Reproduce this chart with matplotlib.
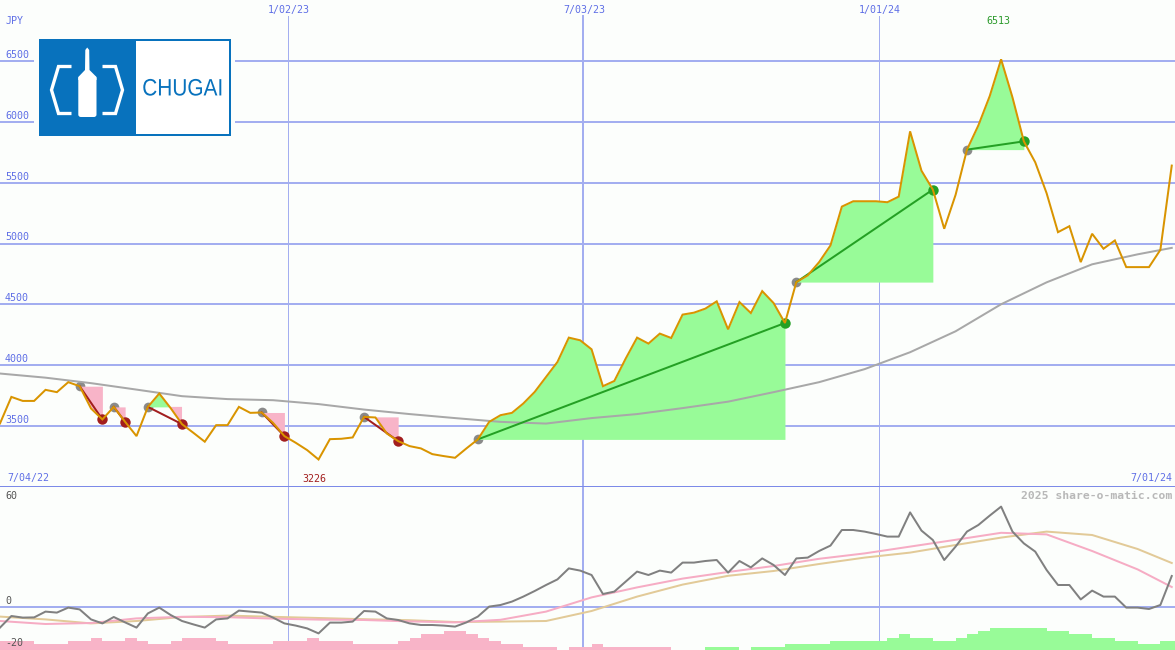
import matplotlib
matplotlib.use('Agg')
import matplotlib.pyplot as plt
import matplotlib.dates as mdates
from matplotlib.patches import Rectangle, Polygon, FancyBboxPatch, PathPatch
from matplotlib.textpath import TextPath
from matplotlib.font_manager import FontProperties
from matplotlib.transforms import Affine2D
import numpy as np
from datetime import date, timedelta

# ---------------- data ----------------
first_week = date(2022, 7, 9)
view_start = date(2022, 7, 9)
view_end = date(2024, 7, 1)

# weekly closes (JPY)
close = [3522, 3740, 3707, 3707, 3798, 3779, 3861, 3828, 3645, 3555,
         3658, 3535, 3418, 3658, 3768, 3648, 3516, 3445, 3372, 3508,
         3508, 3658, 3609, 3612, 3527, 3418, 3363, 3303, 3226, 3393,
         3396, 3407, 3576, 3571, 3440, 3377, 3336, 3317, 3270, 3254,
         3240, 3317, 3391, 3535, 3590, 3609, 3686, 3781, 3904, 4027,
         4227, 4205, 4131, 3828, 3871, 4055, 4227, 4178, 4260, 4224,
         4416, 4432, 4465, 4525, 4295, 4519, 4429, 4609, 4511, 4347,
         4683, 4738, 4847, 4984, 5303, 5347, 5347, 5347, 5339, 5385,
         5921, 5598, 5443, 5121, 5400, 5771, 5970, 6211, 6513, 6200,
         5839, 5667, 5413, 5093, 5142, 4847, 5080, 4957, 5025, 4806,
         4806, 4806, 4948, 5640]

# long moving average, read every 4 weeks
ma_weeks = [0, 4, 8, 12, 16, 20, 24, 28, 32, 36, 40, 44, 48, 52,
            56, 60, 64, 68, 72, 76, 80, 84, 88, 92, 96, 100, 103]
ma_close = [3932, 3898, 3853, 3800, 3746, 3722, 3713, 3681, 3636, 3599,
            3566, 3535, 3521, 3566, 3599, 3648, 3701, 3779, 3861, 3968,
            4107, 4279, 4501, 4681, 4829, 4911, 4964]

# signals: (entry week, exit week)
trades = [(7, 9), (10, 11), (13, 16), (23, 25), (32, 35),
          (42, 69), (70, 82), (85, 90)]

# lower panel oscillator
osc = [-10.3, -4.5, -5.3, -5.2, -2.3, -2.8, -0.3, -1.2, -6.2, -8.2,
       -5.0, -7.7, -10.3, -3.2, -0.3, -4.0, -7.0, -8.7, -10.3, -6.2,
       -5.7, -1.8, -2.3, -2.8, -5.3, -8.2, -9.3, -10.7, -13.2, -7.8,
       -7.8, -7.3, -2.0, -2.3, -5.7, -6.5, -8.2, -9.0, -9.0, -9.3,
       -9.8, -7.7, -4.8, 0.2, 1.0, 2.7, 5.2, 8.0, 11.0, 13.8,
       19.3, 18.2, 16.0, 6.5, 7.7, 12.7, 17.7, 16.0, 18.2, 17.2,
       22.2, 22.2, 23.0, 23.5, 17.2, 23.0, 19.8, 24.3, 21.0, 16.0,
       24.3, 24.7, 28.0, 30.7, 38.5, 38.5, 37.7, 36.5, 35.2, 35.2,
       47.3, 38.2, 33.5, 23.5, 30.2, 37.7, 41.0, 45.7, 50.2, 37.7,
       31.8, 27.7, 18.5, 11.0, 11.0, 3.8, 8.2, 5.2, 5.2, -0.3,
       -0.3, -1.0, 1.0, 15.5]
osc_pink = [-7.0, -8.5, -8.0, -5.7, -4.9, -5.1, -5.8, -6.3, -6.5, -7.2,
            -7.7, -6.4, -2.3, 4.8, 9.8, 14.2, 17.5, 20.5, 24.1, 26.8,
            30.2, 33.6, 37.1, 36.3, 28.0, 18.8, 10.0]
osc_tan = [-4.8, -6.2, -8.2, -7.0, -5.0, -4.3, -4.9, -5.5, -6.1, -6.6,
           -7.5, -7.3, -7.0, -2.0, 5.2, 11.2, 15.6, 18.0, 21.5, 24.7,
           27.2, 31.0, 34.7, 37.7, 36.0, 29.0, 22.0]
# histogram at the bottom (negative = pink, positive = green)
hist = [-4.5, -4.5, -4.5, -3.0, -3.0, -3.0, -4.5, -4.5, -6.15, -4.5,
        -4.5, -6.15, -4.5, -3.0, -3.0, -4.5, -6.15, -6.15, -6.15, -4.5,
        -3.0, -3.0, -3.0, -3.0, -4.5, -4.5, -4.5, -6.15, -4.5, -4.5,
        -4.5, -3.0, -3.0, -3.0, -3.0, -4.5, -6.15, -7.85, -7.85, -9.5,
        -9.5, -7.85, -6.15, -4.5, -3.0, -3.0, -1.65, -1.65, -1.65, 0,
        -1.65, -1.65, -3.0, -1.65, -1.65, -1.65, -1.65, -1.65, -1.65, 0,
        0, 0, 1.65, 1.65, 1.65, 0, 1.65, 1.65, 1.65, 3.0,
        3.0, 3.0, 3.0, 4.5, 4.5, 4.5, 4.5, 4.5, 6.15, 7.85,
        6.15, 6.15, 4.5, 4.5, 6.15, 7.85, 9.5, 11.15, 11.15, 11.15,
        11.15, 11.15, 9.5, 9.5, 7.85, 7.85, 6.15, 6.15, 4.5, 4.5,
        3.0, 3.0, 4.5, 4.5]

grid_prices = [3500, 4000, 4500, 5000, 5500, 6000, 6500]
grid_dates = [date(2023, 1, 2), date(2023, 7, 3), date(2024, 1, 1)]
grid_date_labels = ['1/02/23', '7/03/23', '1/01/24']
grid_date_widths = [1, 2, 1]

# ---------------- style ----------------
W, H, DPI = 1175, 650, 100
PX = 72 / DPI
BG = '#fcfefc'
GRID = '#a3aef0'
DIV = '#7c8ae8'
BLUE_TXT = '#5f6fe6'
PRICE = '#d99400'
MA_GRAY = '#a8a8a8'
GREEN_FILL = '#98fb98'
PINK_FILL = '#f8b4c8'
WIN = '#24a024'
LOSS = '#a21e1e'
ENTRY = '#8a8a8a'
LOGO_BLUE = '#0872bd'
MONO = 'DejaVu Sans Mono'

xs = mdates.date2num([first_week + timedelta(weeks=i) for i in range(len(close))])
price = np.array(close, dtype=float)
ma_x = xs[ma_weeks]

fig = plt.figure(figsize=(W / DPI, H / DPI), dpi=DPI, facecolor=BG)
ax = fig.add_axes([0, 163 / H, 1, 487 / H], facecolor=BG)
ax2 = fig.add_axes([0, 0, 1, 163 / H], facecolor=BG)
for a in (ax, ax2):
    a.set_xlim(mdates.date2num(view_start), mdates.date2num(view_end))
    a.set_xticks([])
    a.set_yticks([])
    for s in a.spines.values():
        s.set_visible(False)
ax.set_ylim(3000, 7000)
ax2.set_ylim(-21.5, 60)

# grid
for p in grid_prices:
    ax.axhline(p, color=GRID, lw=2 * PX, zorder=0.5)
ax.axhline(3000, color=DIV, lw=2 * PX, zorder=7, clip_on=False)
ax2.axhline(0, color=GRID, lw=2 * PX, zorder=0.5)
for d, lbl, w in zip(grid_dates, grid_date_labels, grid_date_widths):
    dn = mdates.date2num(d)
    ax.axvline(dn, ymax=1 - 16 / 487, color=GRID, lw=w * PX, zorder=0.5)
    ax2.axvline(dn, color=GRID, lw=w * PX, zorder=0.5)
    ax.annotate(lbl, xy=(dn, 1), xycoords=('data', 'axes fraction'),
                xytext=(1 * PX, -9.5 * PX), textcoords='offset points',
                ha='center', va='center', fontsize=7.2, family=MONO, color=BLUE_TXT)

# price axis labels
for p in grid_prices:
    ax.annotate(str(p), xy=(0, p), xycoords=('axes fraction', 'data'),
                xytext=(5 * PX, 6 * PX), textcoords='offset points',
                ha='left', va='center', fontsize=7.2, family=MONO, color=BLUE_TXT)
ax.annotate('JPY', xy=(0, 1), xycoords='axes fraction', xytext=(6 * PX, -21 * PX),
            textcoords='offset points', ha='left', va='center',
            fontsize=7.2, family=MONO, color=BLUE_TXT)
ax.annotate('7/04/22', xy=(0, 0), xycoords='axes fraction', xytext=(7 * PX, 8.5 * PX),
            textcoords='offset points', ha='left', va='center',
            fontsize=7.2, family=MONO, color=BLUE_TXT)
ax.annotate('7/01/24', xy=(1, 0), xycoords='axes fraction', xytext=(-3 * PX, 8.5 * PX),
            textcoords='offset points', ha='right', va='center',
            fontsize=7.2, family=MONO, color=BLUE_TXT)

# high / low labels
i_hi, i_lo = int(np.argmax(price)), int(np.argmin(price))
ax.annotate(f'{close[i_hi]}', xy=(xs[i_hi], 1), xycoords=('data', 'axes fraction'),
            xytext=(-3 * PX, -21 * PX), textcoords='offset points',
            ha='center', va='center', fontsize=7.2, family=MONO, color='#2a9a2a')
ax.annotate(f'{close[i_lo]}', xy=(xs[i_lo], 0), xycoords=('data', 'axes fraction'),
            xytext=(-4 * PX, 8.5 * PX), textcoords='offset points',
            ha='center', va='center', fontsize=7.2, family=MONO, color=LOSS)

# signals
for s, e in trades:
    tx, tp = xs[s:e + 1], price[s:e + 1]
    base = price[s]
    ax.fill_between(tx, tp, base, where=tp >= base, interpolate=True,
                    color=GREEN_FILL, lw=0, zorder=2)
    ax.fill_between(tx, tp, base, where=tp <= base, interpolate=True,
                    color=PINK_FILL, lw=0, zorder=2)
    col = WIN if price[e] > base else LOSS
    ax.plot(xs[s], base, 'o', color=ENTRY, ms=7, mew=0, zorder=1.8)
    ax.plot(xs[e], price[e], 'o', color=col, ms=7.5, mew=0, zorder=3)
    ax.plot([xs[s], xs[e]], [base, price[e]], color=col, lw=2 * PX, zorder=4)

ax.plot(ma_x, ma_close, color=MA_GRAY, lw=2 * PX, zorder=2.5)
ax.plot(xs, price, color=PRICE, lw=2 * PX, zorder=5, solid_joinstyle='miter')

# lower panel
hv = np.array(hist)
ax2.bar(xs, np.abs(hv), width=7, bottom=-21.5, align='edge',
        color=[PINK_FILL if v < 0 else GREEN_FILL for v in hv], lw=0, zorder=1)
ax2.plot(ma_x, osc_tan, color='#e2ca98', lw=2 * PX, zorder=2)
ax2.plot(ma_x, osc_pink, color='#f6acc4', lw=2 * PX, zorder=2.2)
ax2.plot(xs, osc, color='#808080', lw=2 * PX, zorder=3)

for v, off in [(60, -9), (0, 5.5), (-20, 4.5)]:
    ax2.annotate(str(v), xy=(0, v), xycoords=('axes fraction', 'data'),
                 xytext=(5 * PX, off * PX), textcoords='offset points',
                 ha='left', va='center', fontsize=7.2, family=MONO, color='#555555')
ax2.annotate('2025 share-o-matic.com', xy=(1, 1), xycoords='axes fraction',
             xytext=(-3 * PX, -9 * PX), textcoords='offset points',
             ha='right', va='center', fontsize=8.2, family=MONO,
             fontweight='bold', color='#b8b8b8')

# logo
ov = fig.add_axes([0, 0, 1, 1])
ov.set_xlim(0, W)
ov.set_ylim(H, 0)
ov.axis('off')
ov.add_patch(Rectangle((34, 35), 201, 104, color=BG, lw=0))
ov.add_patch(Rectangle((38.5, 38.5), 192.5, 97, color=LOGO_BLUE, lw=0))
ov.add_patch(Rectangle((136, 40.5), 93, 93, color='white', lw=0))
br_kw = dict(color='white', lw=3.3 * PX, solid_joinstyle='miter', solid_capstyle='butt')
ov.plot([71.5, 58.5, 51.5, 58.5, 71.5], [66.5, 66.5, 90, 113.5, 113.5], **br_kw)
ov.plot([102.5, 115.5, 122.5, 115.5, 102.5], [66.5, 66.5, 90, 113.5, 113.5], **br_kw)
ov.add_patch(Polygon([(85.3, 50), (87.2, 47.5), (89.2, 50), (89.5, 70), (96.5, 77),
                      (96.5, 80), (78.3, 80), (78.3, 77), (85, 70)],
                     closed=True, color='white', lw=0))
ov.add_patch(FancyBboxPatch((78.3, 76), 18.2, 41, boxstyle='round,pad=0,rounding_size=2.5',
                            color='white', lw=0))
tpath = TextPath((0, 0), 'CHUGAI', size=24, prop=FontProperties(family='Liberation Sans'))
bb = tpath.get_extents()
tr = Affine2D().translate(-bb.x0, -bb.y0).scale(78 / bb.width, -16.8 / bb.height).translate(143.3, 95.7)
ov.add_patch(PathPatch(tr.transform_path(tpath), color=LOGO_BLUE, lw=0))

fig.savefig('out.png', dpi=DPI, facecolor=BG)
